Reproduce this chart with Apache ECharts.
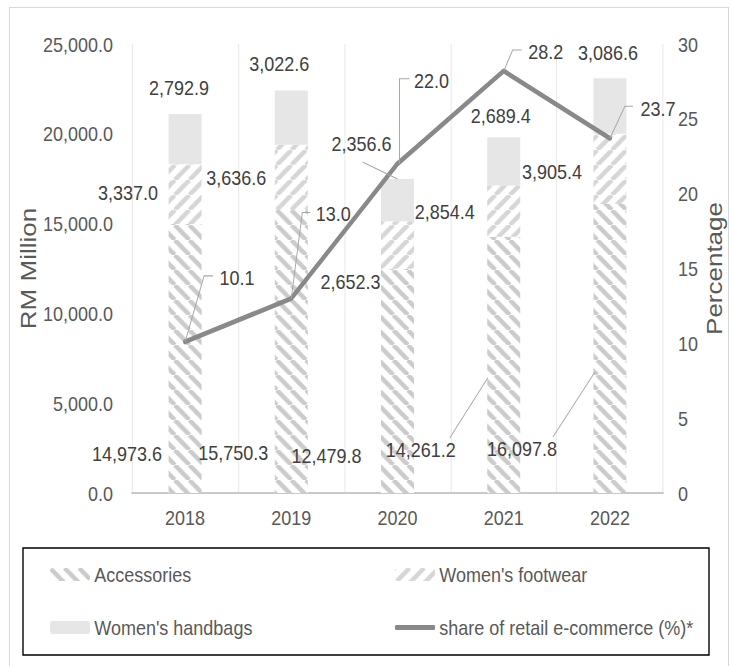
<!DOCTYPE html>
<html>
<head>
<meta charset="utf-8">
<script src="https://cdn.jsdelivr.net/npm/echarts@6/dist/echarts.min.js"></script>
<style>
  html, body { margin: 0; padding: 0; background: #ffffff; overflow: hidden; width: 731px; height: 666px; }
  #chart { width: 853px; height: 666px; transform: scaleX(0.857); transform-origin: 0 0; }
</style>
</head>
<body>
<div id="chart"></div>
<script>
// ---- data ----
const years = ['2018', '2019', '2020', '2021', '2022'];
const accessories = [14973.6, 15750.3, 12479.8, 14261.2, 16097.8];
const womensFootwear = [3337.0, 3636.6, 2652.3, 2854.4, 3905.4];
const womensHandbags = [2792.9, 3022.6, 2356.6, 2689.4, 3086.6];
const ecommerceShare = [10.1, 13.0, 22.0, 28.2, 23.7];
const rmTicks = [0, 5000, 10000, 15000, 20000, 25000];
const pctTicks = [0, 5, 10, 15, 20, 25, 30];

const seriesNames = ['Accessories', "Women's footwear", "Women's handbags", 'share of retail e-commerce (%)*'];

// The drawing is laid out on a wider canvas and squeezed horizontally by SX,
// giving the condensed lettering; H() turns screen widths into canvas widths.
const SX = 0.857;
const H = v => v / SX;

// ---- label placement (screen-pixel offsets from each label's anchor) ----
const accLabelOffset = [[-58, -40], [-58, -41], [-71, -38], [-83, -44], [-88, -45]];
const accLeader = [null, null, null, [[-54, -55], [-16, -115]], [[-57, -56], [-15, -121]]];
const fwLabelOffset = [[-57, -2], [-55, 0], [-47, 36], [-59, 0], [-58, 3]];
const hbLabelOffset = [[-6, -26], [-12, -27], [-36, -35], [-3, -22], [-2, -26]];
const hbLeader = [null, null, [[-35, -17], [0, 0]], null, null];
const pctLabelOffset = [[52, -64], [42, -85], [34, -83], [42, -19], [48, -30]];
const pctLeader = [
  [[0, 0], [19, -66], [28, -66]],
  [[0, 0], [11, -86], [19, -86]],
  [[2, 0], [2, -85], [12, -85]],
  [[0, 0], [9, -21], [18, -21]],
  [[0, 0], [15, -32], [23, -32]]
];

const FONT = "'Liberation Sans', Arial, sans-serif";
const axisTextColor = '#595959';
const labelColor = '#404040';
const leaderColor = '#a6a6a6';

// diagonal hatch tiles for the stacked bars
function hatchTile(direction, color) {
  const w = 17, h = 15;
  const c = document.createElement('canvas');
  c.width = w; c.height = h;
  const g = c.getContext('2d');
  g.fillStyle = '#ffffff';
  g.fillRect(0, 0, w, h);
  g.strokeStyle = color;
  g.lineWidth = 4.8;
  g.beginPath();
  for (let k = -1; k <= 1; k++) {
    if (direction === 'up') {
      g.moveTo(k * w, h); g.lineTo(k * w + w, 0);
    } else {
      g.moveTo(k * w, 0); g.lineTo(k * w + w, h);
    }
  }
  g.stroke();
  return c;
}

const accFill = { image: hatchTile('down', '#cbcbcb'), repeat: 'repeat' };
const fwFill = { image: hatchTile('up', '#d6d6d6'), repeat: 'repeat' };

const fmt1 = v => v.toLocaleString('en-US', { minimumFractionDigits: 1, maximumFractionDigits: 1 });

const chart = echarts.init(document.getElementById('chart'), null, { renderer: 'svg', width: 853, height: 666 });

const legendCommon = {
  orient: 'horizontal',
  padding: 0,
  itemWidth: H(40),
  itemHeight: 13,
  selectedMode: false,
  textStyle: { fontFamily: FONT, fontSize: 21, color: axisTextColor }
};

const option = {
  animation: false,
  backgroundColor: '#ffffff',
  grid: { left: H(132), right: H(68), top: 44, bottom: 173, outerBoundsMode: 'none', containLabel: false },
  legend: [
    Object.assign({}, legendCommon, { data: [seriesNames[0]], left: H(50), top: 564 }),
    Object.assign({}, legendCommon, { data: [seriesNames[1]], left: H(395), top: 564 }),
    Object.assign({}, legendCommon, { data: [seriesNames[2]], left: H(50), top: 617 }),
    Object.assign({}, legendCommon, {
      data: [{ name: seriesNames[3], icon: 'roundRect' }],
      left: H(395), top: 617, itemHeight: 5
    })
  ],
  xAxis: {
    type: 'category',
    data: years,
    boundaryGap: true,
    axisLine: { show: true, lineStyle: { color: '#c9c9c9', width: 2 } },
    axisTick: { show: false },
    splitLine: { show: true, lineStyle: { color: '#e6e6e6', width: 1 } },
    axisLabel: { margin: 14, fontFamily: FONT, fontSize: 21, color: axisTextColor }
  },
  yAxis: [
    {
      type: 'value',
      min: rmTicks[0],
      max: rmTicks[rmTicks.length - 1],
      interval: rmTicks[1] - rmTicks[0],
      name: 'RM Million',
      nameLocation: 'middle',
      nameRotate: 90,
      nameGap: 108,
      nameMoveOverlap: false,
      nameTextStyle: { fontFamily: FONT, fontSize: 26, color: axisTextColor },
      axisLine: { show: false },
      axisTick: { show: false },
      splitLine: { show: false },
      axisLabel: { margin: H(19), fontFamily: FONT, fontSize: 21, color: axisTextColor, formatter: v => fmt1(v) }
    },
    {
      type: 'value',
      position: 'right',
      min: pctTicks[0],
      max: pctTicks[pctTicks.length - 1],
      interval: pctTicks[1] - pctTicks[0],
      name: 'Percentage',
      nameLocation: 'middle',
      nameRotate: 90,
      nameGap: 47,
      nameMoveOverlap: false,
      nameTextStyle: { fontFamily: FONT, fontSize: 26, color: axisTextColor },
      axisLine: { show: false },
      axisTick: { show: false },
      splitLine: { show: false },
      axisLabel: { margin: H(15), fontFamily: FONT, fontSize: 21, color: axisTextColor, formatter: v => String(v) }
    }
  ],
  series: [
    {
      name: seriesNames[0], type: 'bar', stack: 'rm', barWidth: H(33),
      data: accessories, itemStyle: { color: accFill }
    },
    {
      name: seriesNames[1], type: 'bar', stack: 'rm', barWidth: H(33),
      data: womensFootwear, itemStyle: { color: fwFill }
    },
    {
      name: seriesNames[2], type: 'bar', stack: 'rm', barWidth: H(33),
      data: womensHandbags, itemStyle: { color: '#e6e6e6' }
    },
    {
      name: seriesNames[3], type: 'line', yAxisIndex: 1,
      data: ecommerceShare, symbol: 'none', z: 5,
      itemStyle: { color: '#898989' },
      lineStyle: { color: '#898989', width: 4.8, join: 'round', cap: 'round' }
    }
  ]
};

chart.setOption(option);

// ---- value labels and leader lines, placed through the axis scales ----
function toPx(i, value, yAxisIndex) {
  return chart.convertToPixel({ xAxisIndex: 0, yAxisIndex: yAxisIndex }, [years[i], value]);
}

const extras = [];

function addText(anchor, off, text) {
  extras.push({
    type: 'text', z: 20,
    style: {
      text: text, x: anchor[0] + H(off[0]), y: anchor[1] + off[1],
      font: '21px ' + FONT,
      fill: labelColor,
      textAlign: 'center', textVerticalAlign: 'middle',
      align: 'center', verticalAlign: 'middle'
    }
  });
}

function addLeader(anchor, pts) {
  if (!pts) return;
  extras.push({
    type: 'polyline', z: 19,
    shape: { points: pts.map(p => [anchor[0] + H(p[0]), anchor[1] + p[1]]) },
    style: { stroke: leaderColor, lineWidth: 1.1, fill: null }
  });
}

years.forEach((y, i) => {
  const base = toPx(i, 0, 0);
  addText(base, accLabelOffset[i], fmt1(accessories[i]));
  addLeader(base, accLeader[i]);

  const fwMid = toPx(i, accessories[i] + womensFootwear[i] / 2, 0);
  addText(fwMid, fwLabelOffset[i], fmt1(womensFootwear[i]));

  const top = toPx(i, accessories[i] + womensFootwear[i] + womensHandbags[i], 0);
  addText(top, hbLabelOffset[i], fmt1(womensHandbags[i]));
  addLeader(top, hbLeader[i]);

  const pt = toPx(i, ecommerceShare[i], 1);
  addText(pt, pctLabelOffset[i], fmt1(ecommerceShare[i]));
  addLeader(pt, pctLeader[i]);
});

// chart frame and legend box
extras.push({
  type: 'rect', z: 0, silent: true,
  shape: { x: H(9.5), y: 7.5, width: H(719), height: 700 },
  style: { fill: null, stroke: '#d9d9d9', lineWidth: 1.2 }
});
extras.push({
  type: 'rect', z: 0, silent: true,
  shape: { x: H(23), y: 548, width: H(686), height: 107 },
  style: { fill: null, stroke: '#000000', lineWidth: 1.6 }
});

chart.setOption({ graphic: { elements: extras } });
</script>
</body>
</html>
